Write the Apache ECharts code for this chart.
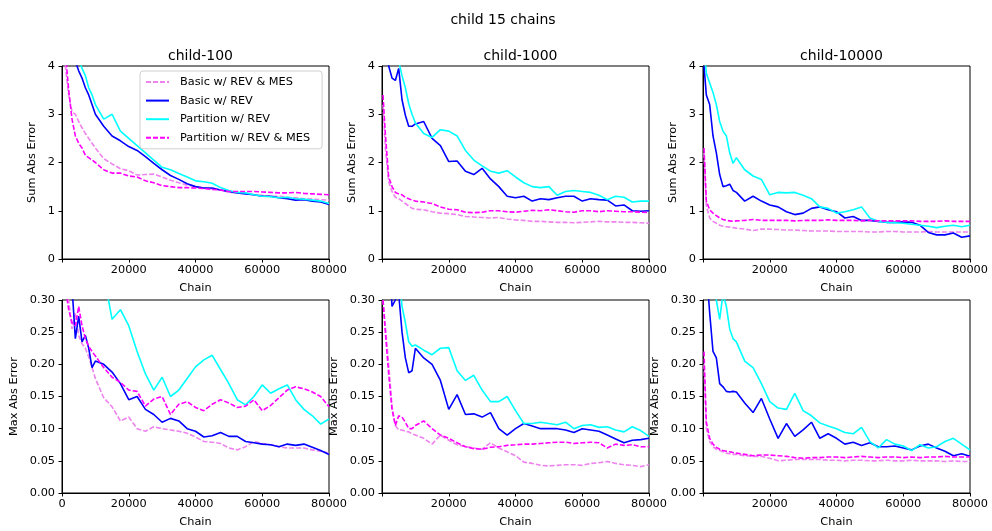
<!DOCTYPE html>
<html>
<head>
<meta charset="utf-8">
<script src="https://cdn.jsdelivr.net/npm/echarts@6/dist/echarts.min.js"></script>
<style>
  html, body { margin: 0; padding: 0; background: #fff; }
  #main { width: 992px; height: 531px; }
</style>
</head>
<body>
<div id="main"></div>
<script>
// chain positions shared by every curve
var chains = [300, 1000, 2000, 3000, 4000, 5000, 6000, 7000, 8000, 9000, 10000,
  12500, 15000, 17500, 20000, 22500, 25000, 27500, 30000, 32500, 35000,
  37500, 40000, 42500, 45000, 47500, 50000, 52500, 55000, 57500, 60000,
  62500, 65000, 67500, 70000, 72500, 75000, 77500, 80000];

var seriesNames = ['Basic w/ REV & MES', 'Basic w/ REV', 'Partition w/ REV', 'Partition w/ REV & MES'];
var panelTitles = ['child-100', 'child-1000', 'child-10000'];

// Sum Abs Error
var sum100_bRM = [4.6, 4.0, 3.4, 3.05, 3.0, 2.85, 2.72, 2.6, 2.5, 2.4, 2.3,
  2.08, 1.97, 1.87, 1.83, 1.74, 1.75, 1.76, 1.7, 1.63, 1.58,
  1.53, 1.5, 1.47, 1.45, 1.43, 1.38, 1.37, 1.36, 1.33, 1.32,
  1.3, 1.3, 1.28, 1.27, 1.25, 1.24, 1.23, 1.22];
var sum100_b = [6.5, 5.5, 5, 4.6, 4.1, 3.9, 3.75, 3.55, 3.4, 3.2, 3.0,
  2.75, 2.55, 2.45, 2.33, 2.25, 2.12, 1.98, 1.85, 1.73, 1.65,
  1.56, 1.5, 1.47, 1.47, 1.43, 1.4, 1.37, 1.35, 1.33, 1.3,
  1.3, 1.27, 1.25, 1.22, 1.23, 1.2, 1.18, 1.13];
var sum100_p = [7, 6, 5.5, 5, 4.5, 4.15, 3.95, 3.8, 3.55, 3.4, 3.2,
  2.9, 3.0, 2.65, 2.5, 2.35, 2.2, 2.05, 1.9, 1.85, 1.77,
  1.7, 1.62, 1.6, 1.57, 1.48, 1.42, 1.38, 1.37, 1.33, 1.3,
  1.29, 1.27, 1.28, 1.25, 1.24, 1.22, 1.2, 1.15];
var sum100_pRM = [4.8, 4.3, 3.5, 2.9, 2.55, 2.4, 2.3, 2.15, 2.1, 2.05, 2.0,
  1.85, 1.78, 1.78, 1.72, 1.7, 1.62, 1.58, 1.52, 1.5, 1.48,
  1.48, 1.47, 1.46, 1.44, 1.43, 1.4, 1.4, 1.4, 1.4, 1.39,
  1.38, 1.37, 1.37, 1.38, 1.36, 1.35, 1.34, 1.33];

var sum1000_bRM = [3.2, 2.3, 1.6, 1.4, 1.28, 1.25, 1.2, 1.15, 1.1, 1.05, 1.03,
  1.02, 0.98, 0.95, 0.94, 0.92, 0.88, 0.87, 0.86, 0.85, 0.86,
  0.83, 0.81, 0.8, 0.78, 0.78, 0.77, 0.76, 0.76, 0.75, 0.76,
  0.77, 0.78, 0.77, 0.77, 0.76, 0.76, 0.75, 0.74];
var sum1000_b = [5.5, 4.6, 4.0, 3.75, 3.7, 3.95, 3.3, 2.98, 2.75, 2.75, 2.8,
  2.85, 2.5, 2.35, 2.02, 2.03, 1.82, 1.75, 1.88, 1.66, 1.5,
  1.3, 1.27, 1.3, 1.2, 1.25, 1.23, 1.27, 1.3, 1.3, 1.2,
  1.25, 1.23, 1.22, 1.1, 1.12, 1.0, 0.99, 1.0];
var sum1000_p = [7, 6, 5.5, 5, 4.6, 4.1, 3.8, 3.55, 3.22, 3.0, 2.82,
  2.6, 2.52, 2.68, 2.65, 2.55, 2.25, 2.05, 1.93, 1.82, 1.78,
  1.83, 1.7, 1.58, 1.5, 1.48, 1.5, 1.32, 1.4, 1.42, 1.4,
  1.38, 1.32, 1.23, 1.3, 1.28, 1.18, 1.2, 1.2];
var sum1000_pRM = [3.4, 2.6, 1.7, 1.5, 1.38, 1.35, 1.33, 1.28, 1.25, 1.22, 1.2,
  1.18, 1.15, 1.08, 1.03, 1.02, 0.97, 0.96, 0.97, 1.0, 1.0,
  0.98, 0.97, 0.99, 1.01, 1.0, 1.02, 1.0, 0.98, 0.97, 1.0,
  1.0, 0.98, 1.0, 0.99, 0.98, 0.98, 0.97, 0.96];

var sum10000_bRM = [2.2, 1.1, 0.85, 0.78, 0.74, 0.7, 0.68, 0.67, 0.66, 0.65, 0.64,
  0.62, 0.59, 0.62, 0.62, 0.61, 0.6, 0.6, 0.59, 0.58, 0.58,
  0.58, 0.57, 0.57, 0.57, 0.57, 0.56, 0.56, 0.57, 0.57, 0.56,
  0.56, 0.56, 0.57, 0.56, 0.56, 0.56, 0.56, 0.56];
var sum10000_b = [4.0, 3.4, 3.2, 2.55, 2.2, 1.75, 1.5, 1.52, 1.55, 1.42, 1.38,
  1.2, 1.3, 1.2, 1.12, 1.08, 0.98, 0.92, 0.95, 1.05, 1.08,
  1.02, 0.98, 0.85, 0.88, 0.8, 0.8, 0.78, 0.76, 0.76, 0.77,
  0.76, 0.7, 0.55, 0.5, 0.5, 0.54, 0.45, 0.48];
var sum10000_p = [4.4, 3.85, 3.65, 3.45, 3.2, 2.85, 2.65, 2.55, 2.2, 1.98, 2.1,
  1.85, 1.72, 1.65, 1.33, 1.38, 1.37, 1.38, 1.32, 1.25, 1.08,
  1.05, 0.95, 0.98, 1.02, 1.08, 0.85, 0.78, 0.76, 0.75, 0.74,
  0.72, 0.7, 0.68, 0.65, 0.68, 0.7, 0.67, 0.7];
var sum10000_pRM = [2.3, 1.2, 1.02, 0.95, 0.9, 0.85, 0.82, 0.8, 0.79, 0.78, 0.79,
  0.8, 0.82, 0.8, 0.8, 0.8, 0.8, 0.79, 0.8, 0.8, 0.8,
  0.81, 0.8, 0.8, 0.8, 0.79, 0.8, 0.79, 0.79, 0.79, 0.79,
  0.79, 0.78, 0.78, 0.78, 0.79, 0.78, 0.78, 0.78];

// Max Abs Error
var max100_bRM = [0.4, 0.34, 0.3, 0.255, 0.28, 0.245, 0.232, 0.225, 0.212, 0.195, 0.178,
  0.148, 0.134, 0.112, 0.118, 0.1, 0.096, 0.103, 0.1, 0.098, 0.096,
  0.093, 0.087, 0.08, 0.079, 0.077, 0.07, 0.067, 0.072, 0.08, 0.077,
  0.075, 0.072, 0.07, 0.07, 0.07, 0.067, 0.065, 0.062];
var max100_b = [0.6, 0.5, 0.4, 0.32, 0.24, 0.275, 0.235, 0.245, 0.225, 0.195, 0.205,
  0.2, 0.188, 0.17, 0.145, 0.15, 0.13, 0.122, 0.11, 0.116, 0.112,
  0.1, 0.096, 0.087, 0.089, 0.094, 0.088, 0.088, 0.08, 0.078, 0.076,
  0.075, 0.072, 0.076, 0.074, 0.076, 0.071, 0.066, 0.06];
var max100_p = [0.8, 0.7, 0.65, 0.6, 0.56, 0.52, 0.49, 0.46, 0.43, 0.4, 0.38,
  0.34, 0.27, 0.285, 0.26, 0.22, 0.185, 0.16, 0.18, 0.15, 0.16,
  0.178, 0.196, 0.207, 0.214, 0.192, 0.17, 0.145, 0.137, 0.15, 0.168,
  0.155, 0.162, 0.168, 0.145, 0.13, 0.12, 0.107, 0.115];
var max100_pRM = [0.4, 0.32, 0.285, 0.265, 0.26, 0.29, 0.26, 0.24, 0.228, 0.22, 0.213,
  0.195, 0.18, 0.172, 0.16, 0.158, 0.135, 0.146, 0.15, 0.122, 0.138,
  0.142, 0.133, 0.128, 0.138, 0.145, 0.14, 0.133, 0.135, 0.145, 0.128,
  0.136, 0.148, 0.16, 0.165, 0.162, 0.157, 0.15, 0.134];

var max1000_bRM = [0.3, 0.26, 0.2, 0.135, 0.105, 0.098, 0.098, 0.096, 0.095, 0.092, 0.09,
  0.085, 0.076, 0.09, 0.082, 0.075, 0.072, 0.07, 0.068, 0.078, 0.07,
  0.064, 0.058, 0.048, 0.046, 0.043, 0.042, 0.043, 0.044, 0.044, 0.043,
  0.046, 0.047, 0.049, 0.046, 0.044, 0.043, 0.041, 0.044];
var max1000_b = [0.6, 0.5, 0.4, 0.29, 0.3, 0.31, 0.25, 0.21, 0.187, 0.19, 0.225,
  0.21, 0.2, 0.175, 0.13, 0.153, 0.122, 0.123, 0.118, 0.125, 0.1,
  0.09, 0.1, 0.108, 0.104, 0.1, 0.1, 0.1, 0.098, 0.094, 0.1,
  0.098, 0.096, 0.09, 0.084, 0.078, 0.082, 0.083, 0.085];
var max1000_p = [0.8, 0.7, 0.6, 0.5, 0.42, 0.35, 0.29, 0.265, 0.235, 0.228, 0.23,
  0.222, 0.215, 0.225, 0.226, 0.19, 0.175, 0.183, 0.16, 0.142, 0.142,
  0.15, 0.128, 0.108, 0.108, 0.11, 0.108, 0.106, 0.11, 0.1, 0.105,
  0.106, 0.102, 0.103, 0.098, 0.095, 0.103, 0.097, 0.088];
var max1000_pRM = [0.3, 0.25, 0.185, 0.13, 0.105, 0.12, 0.118, 0.11, 0.1, 0.1, 0.105,
  0.112, 0.1, 0.09, 0.085, 0.078, 0.072, 0.069, 0.068, 0.071, 0.072,
  0.074, 0.075, 0.076, 0.076, 0.077, 0.078, 0.079, 0.079, 0.077, 0.078,
  0.079, 0.078, 0.07, 0.076, 0.074, 0.075, 0.072, 0.072];

var max10000_bRM = [0.2, 0.1, 0.08, 0.072, 0.068, 0.066, 0.064, 0.062, 0.061, 0.06, 0.06,
  0.058, 0.057, 0.057, 0.054, 0.05, 0.051, 0.052, 0.052, 0.052, 0.052,
  0.051, 0.051, 0.05, 0.051, 0.051, 0.05, 0.05, 0.051, 0.05, 0.05,
  0.051, 0.05, 0.05, 0.05, 0.049, 0.05, 0.049, 0.049];
var max10000_b = [0.45, 0.35, 0.28, 0.22, 0.21, 0.17, 0.165, 0.158, 0.157, 0.158, 0.157,
  0.14, 0.125, 0.147, 0.115, 0.085, 0.108, 0.088, 0.098, 0.11, 0.085,
  0.092, 0.085, 0.076, 0.079, 0.074, 0.078, 0.072, 0.072, 0.073, 0.07,
  0.067, 0.073, 0.076, 0.07, 0.065, 0.058, 0.061, 0.057];
var max10000_p = [0.6, 0.5, 0.38, 0.32, 0.3, 0.27, 0.31, 0.29, 0.255, 0.24, 0.235,
  0.205, 0.195, 0.17, 0.142, 0.132, 0.13, 0.155, 0.128, 0.12, 0.109,
  0.104, 0.1, 0.094, 0.092, 0.102, 0.08, 0.07, 0.083, 0.076, 0.073,
  0.066, 0.075, 0.07, 0.072, 0.08, 0.085, 0.076, 0.067];
var max10000_pRM = [0.22, 0.11, 0.085, 0.076, 0.071, 0.068, 0.066, 0.065, 0.064, 0.063, 0.062,
  0.06, 0.058, 0.059, 0.059, 0.058, 0.057, 0.055, 0.054, 0.055, 0.055,
  0.056, 0.056, 0.055, 0.056, 0.057, 0.056, 0.055, 0.056, 0.056, 0.055,
  0.056, 0.055, 0.056, 0.056, 0.057, 0.056, 0.056, 0.056];

var colors = ['#ee82ee', '#0000ff', '#00ffff', '#ff00ff'];
var dashed = [true, false, false, true];

var panels = [
  [sum100_bRM, sum100_b, sum100_p, sum100_pRM],
  [sum1000_bRM, sum1000_b, sum1000_p, sum1000_pRM],
  [sum10000_bRM, sum10000_b, sum10000_p, sum10000_pRM],
  [max100_bRM, max100_b, max100_p, max100_pRM],
  [max1000_bRM, max1000_b, max1000_p, max1000_pRM],
  [max10000_bRM, max10000_b, max10000_p, max10000_pRM]
];

var FONT = 'DejaVu Sans';
var gridLefts = [62, 382, 703];
var gridTops = [66, 300];
var gridW = 267, gridH = 193;

function pairs(vals) {
  var out = [];
  for (var i = 0; i < chains.length; i++) {
    out.push([chains[i], vals[i]]);
  }
  return out;
}

var grids = [], xAxes = [], yAxes = [], series = [];
var titles = [{
  text: 'child 15 chains',
  left: 498, top: 8, textAlign: 'center',
  textStyle: {fontFamily: FONT, fontSize: 14, fontWeight: 'normal', color: '#000'}
}];

for (var p = 0; p < 6; p++) {
  var row = Math.floor(p / 3), col = p % 3;
  grids.push({
    left: gridLefts[col], top: gridTops[row], width: gridW, height: gridH,
    show: true, borderColor: '#000', borderWidth: 1, backgroundColor: 'transparent'
  });
  var showZero = (p === 3);
  xAxes.push({
    type: 'value', gridIndex: p, min: 0, max: 80000, interval: 20000,
    name: 'Chain', nameLocation: 'middle', nameGap: 24,
    nameTextStyle: {fontFamily: FONT, fontSize: 11.3, color: '#000'},
    axisLine: {show: true, lineStyle: {color: '#000', width: 1}},
    axisTick: {show: true, inside: false, length: 3.5, lineStyle: {color: '#000'}},
    splitLine: {show: false},
    axisLabel: {
      fontFamily: FONT, fontSize: 11.3, color: '#000', margin: 6,
      showMinLabel: true, showMaxLabel: true,
      formatter: (function (sz) {
        return function (v) { return (v === 0 && !sz) ? '' : String(v); };
      })(showZero)
    }
  });
  var isSum = row === 0;
  yAxes.push({
    type: 'value', gridIndex: p, min: 0,
    max: isSum ? 4 : 0.3, interval: isSum ? 1 : 0.05,
    name: isSum ? 'Sum Abs Error' : 'Max Abs Error',
    nameLocation: 'middle', nameGap: isSum ? 24 : 42, nameRotate: 90,
    nameTextStyle: {fontFamily: FONT, fontSize: 11.3, color: '#000'},
    axisLine: {show: true, lineStyle: {color: '#000', width: 1}},
    axisTick: {show: true, inside: false, length: 3.5, lineStyle: {color: '#000'}},
    splitLine: {show: false},
    axisLabel: {
      fontFamily: FONT, fontSize: 11.3, color: '#000', margin: 7,
      showMinLabel: true, showMaxLabel: true,
      formatter: (function (s) {
        return function (v) { return s ? String(Math.round(v)) : v.toFixed(2); };
      })(isSum)
    }
  });
  if (row === 0) {
    titles.push({
      text: panelTitles[col],
      left: gridLefts[col] + gridW / 2, top: 44, textAlign: 'center',
      textStyle: {fontFamily: FONT, fontSize: 14, fontWeight: 'normal', color: '#000'}
    });
  }
  for (var s = 0; s < 4; s++) {
    series.push({
      name: seriesNames[s], type: 'line',
      xAxisIndex: p, yAxisIndex: p,
      data: pairs(panels[p][s]),
      symbol: 'none', clip: true, silent: true,
      lineStyle: {color: colors[s], width: 1.6, type: dashed[s] ? [5, 2] : 'solid'},
      itemStyle: {color: colors[s]}
    });
  }
}

var myChart = echarts.init(document.getElementById('main'), null, {renderer: 'canvas'});
myChart.setOption({
  animation: false,
  backgroundColor: '#fff',
  title: titles,
  legend: {
    data: seriesNames,
    orient: 'vertical',
    left: 140, top: 71,
    // tiny item height keeps the legend marker to a plain line sample
    itemWidth: 23, itemHeight: 2, itemGap: 7.6,
    padding: [5.5, 12, 5.5, 5],
    itemStyle: {opacity: 0},
    backgroundColor: 'rgba(255,255,255,0.8)',
    borderColor: '#d0d0d0', borderWidth: 1, borderRadius: 3,
    textStyle: {fontFamily: FONT, fontSize: 11.3, color: '#000', padding: [0, 0, 0, 6]},
    selectedMode: false
  },
  grid: grids,
  xAxis: xAxes,
  yAxis: yAxes,
  series: series
});
</script>
</body>
</html>
